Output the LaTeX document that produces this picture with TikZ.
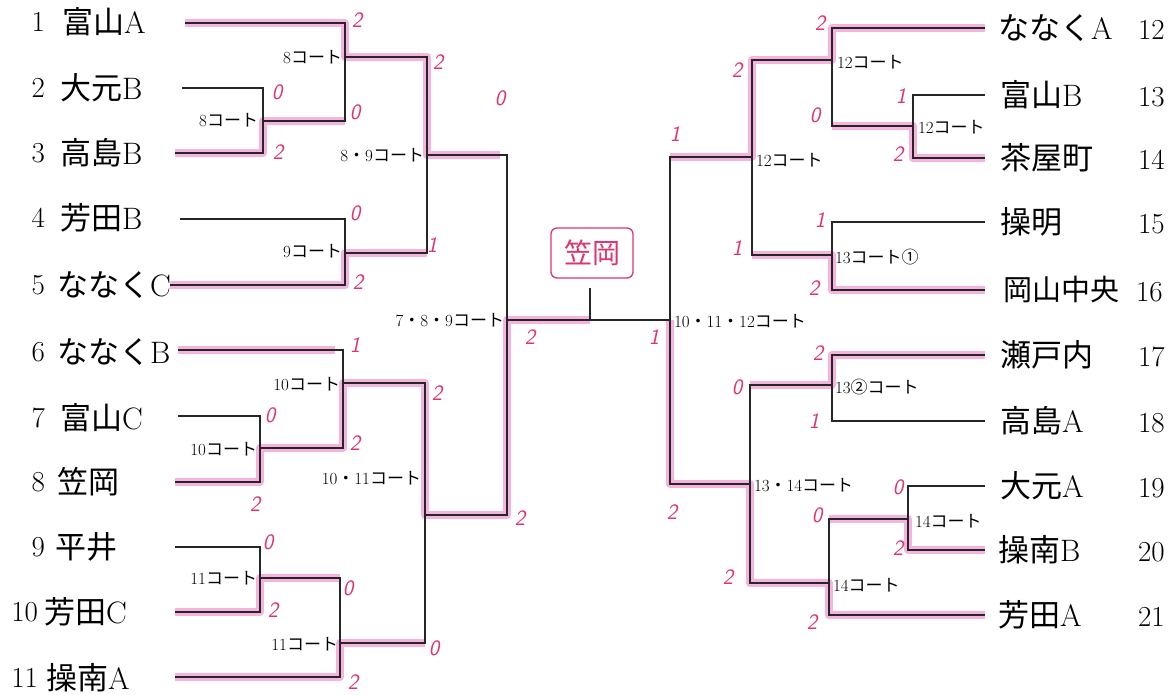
\documentclass[tikz,border=0pt]{standalone}
\usepackage{fontspec}
\newfontfamily\jp{Noto Sans CJK JP}
\definecolor{hlpink}{RGB}{238,120,196}
\definecolor{scorered}{RGB}{222,52,112}
\newcommand\J[1]{{\jp #1}}
\tikzset{
  every node/.style={inner sep=0pt, outer sep=0pt},
  br/.style={line width=1.5pt, black!85},
  hl/.style={line width=8pt, draw=hlpink, opacity=0.55, line join=round},
  team/.style={font=\fontsize{31}{32}\selectfont, anchor=west},
  num/.style={font=\fontsize{29}{30}\selectfont},
  court/.style={font=\fontsize{17}{18}\selectfont},
  score/.style={font=\fontsize{22}{22}\selectfont\sffamily\itshape, text=scorered},
}
\begin{document}
\begin{tikzpicture}[x=1pt,y=-1pt]
\useasboundingbox (0,0) rectangle (1175,695);
\fill[white] (0,0) rectangle (1175,695);

% ---------- left team labels ----------
\node[num,anchor=east] (n1) at (45,22) {1};   \node[team] (L1) at (62,22) {\J{富山}A};
\node[num,anchor=east] (n2) at (45,88) {2};   \node[team] (L2) at (60,88) {\J{大元}B};
\node[num,anchor=east] (n3) at (45,153) {3};  \node[team] (L3) at (60,153) {\J{高島}B};
\node[num,anchor=east] (n4) at (45,218) {4};  \node[team] (L4) at (60,218) {\J{芳田}B};
\node[num,anchor=east] (n5) at (45,285) {5};  \node[team] (L5) at (57,285) {\J{ななく}C};
\node[num,anchor=east] (n6) at (45,352) {6};  \node[team] (L6) at (57,352) {\J{ななく}B};
\node[num,anchor=east] (n7) at (45,418) {7};  \node[team] (L7) at (60,418) {\J{富山}C};
\node[num,anchor=east] (n8) at (45,482) {8};  \node[team] (L8) at (57,482) {\J{笠岡}};
\node[num,anchor=east] (n9) at (45,547) {9};  \node[team] (L9) at (55,547) {\J{平井}};
\node[num,anchor=east] (n10) at (38,612) {10}; \node[team] (L10) at (44,612) {\J{芳田}C};
\node[num,anchor=east] (n11) at (38,678) {11}; \node[team] (L11) at (46,678) {\J{操南}A};

% ---------- right team labels ----------
\node[team] (R12) at (998,28) {\J{ななく}A};  \node[num,anchor=west] (n12) at (1138,30) {12};
\node[team] (R13) at (1000,95) {\J{富山}B};   \node[num,anchor=west] (n13) at (1138,97) {13};
\node[team] (R14) at (1000,158) {\J{茶屋町}}; \node[num,anchor=west] (n14) at (1138,160) {14};
\node[team] (R15) at (1000,222) {\J{操明}};   \node[num,anchor=west] (n15) at (1138,224) {15};
\node[team,font=\fontsize{29}{30}\selectfont] (R16) at (1003,290) {\J{岡山中央}}; \node[num,anchor=west] (n16) at (1136,292) {16};
\node[team] (R17) at (1000,355) {\J{瀬戸内}}; \node[num,anchor=west] (n17) at (1138,357) {17};
\node[team] (R18) at (1000,421) {\J{高島}A};  \node[num,anchor=west] (n18) at (1138,423) {18};
\node[team] (R19) at (1000,486) {\J{大元}A};  \node[num,anchor=west] (n19) at (1138,488) {19};
\node[team] (R20) at (998,550) {\J{操南}B};   \node[num,anchor=west] (n20) at (1138,552) {20};
\node[team] (R21) at (998,615) {\J{芳田}A};   \node[num,anchor=west] (n21) at (1138,617) {21};

% ---------- coordinates (left) ----------
\coordinate (a1) at (185,23);  \coordinate (a2) at (182,88);  \coordinate (a3) at (175,153);
\coordinate (a4) at (180,219); \coordinate (a5) at (170,285); \coordinate (a6) at (178,350);
\coordinate (a7) at (178,416); \coordinate (a8) at (175,482); \coordinate (a9) at (175,547);
\coordinate (a10) at (175,612); \coordinate (a11) at (175,677);
% ---------- coordinates (right) ----------
\coordinate (b12) at (985,28);  \coordinate (b13) at (985,95);  \coordinate (b14) at (985,158);
\coordinate (b15) at (985,222); \coordinate (b16) at (985,290); \coordinate (b17) at (985,355);
\coordinate (b18) at (985,421); \coordinate (b19) at (985,486); \coordinate (b20) at (985,550);
\coordinate (b21) at (985,615);
\coordinate (fl) at (507,320); \coordinate (fr) at (670,320); \coordinate (fc) at (590,320);

% ---------- pink highlights ----------
\draw[hl] (a1) -- (345,23) -- (345,57) -- (427,57) -- (427,155) -- (500,155);
\draw[hl] (a3) -- (263,153) -- (263,121) -- (345,121);
\draw[hl] (a5) -- (345,285) -- (345,253) -- (427,253);
\draw[hl] (a6) -- (335,350);
\draw[hl] (a8) -- (260,482) -- (260,448) -- (343,448) -- (343,383) -- (425,383) -- (425,515) -- (507,515) -- (fl) -- (fc);
\draw[hl] (a10) -- (260,612) -- (260,578) -- (340,578);
\draw[hl] (a11) -- (340,677) -- (340,643) -- (425,643);
\draw[hl] (b12) -- (832,28) -- (832,60) -- (752,60) -- (752,157) -- (670,157);
\draw[hl] (b14) -- (913,158) -- (913,126) -- (832,126);
\draw[hl] (b16) -- (832,290) -- (832,255) -- (752,255);
\draw[hl] (b17) -- (832,355) -- (832,385) -- (750,385);
\draw[hl] (fr) -- (670,484) -- (750,484) -- (750,583) -- (829,583) -- (829,615) -- (b21);
\draw[hl] (b20) -- (908,550) -- (908,519) -- (829,519);

% ---------- bracket lines (left) ----------
\draw[br] (a2) -- (263,88) -- (263,153) -- (a3);
\draw[br] (a1) -- (345,23) -- (345,121) -- (263,121);
\draw[br] (a4) -- (345,219) -- (345,285) -- (a5);
\draw[br] (345,57) -- (427,57) -- (427,253) -- (345,253);
\draw[br] (a7) -- (260,416) -- (260,482) -- (a8);
\draw[br] (a6) -- (343,350) -- (343,448) -- (260,448);
\draw[br] (a9) -- (260,547) -- (260,612) -- (a10);
\draw[br] (a11) -- (340,677) -- (340,578) -- (260,578);
\draw[br] (343,383) -- (425,383) -- (425,643) -- (340,643);
\draw[br] (427,155) -- (507,155) -- (507,515) -- (425,515);
\draw[br] (fl) -- (fr);
% ---------- bracket lines (right) ----------
\draw[br] (b13) -- (913,95) -- (913,158) -- (b14);
\draw[br] (b12) -- (832,28) -- (832,126) -- (913,126);
\draw[br] (b15) -- (832,222) -- (832,290) -- (b16);
\draw[br] (832,60) -- (752,60) -- (752,255) -- (832,255);
\draw[br] (b17) -- (832,355) -- (832,421) -- (b18);
\draw[br] (b19) -- (908,486) -- (908,550) -- (b20);
\draw[br] (b21) -- (829,615) -- (829,519) -- (908,519);
\draw[br] (832,385) -- (750,385) -- (750,583) -- (829,583);
\draw[br] (752,157) -- (670,157) -- (670,484) -- (750,484);

% ---------- champion ----------
\node[draw=scorered, line width=1.3pt, rounded corners=6pt, minimum width=82pt, minimum height=50pt,
      text=scorered, font=\fontsize{28}{28}\selectfont\jp] (champ) at (592,253) {笠岡};
\draw[br] (fc) -- (590,288);

% ---------- court labels ----------
\node[court,anchor=east] (c1) at (342,57) {8\J{コート}};
\node[court,anchor=east] (c2) at (258,120) {8\J{コート}};
\node[court,anchor=east] (c3) at (424,155) {8\J{・}9\J{コート}};
\node[court,anchor=east] (c4) at (342,251) {9\J{コート}};
\node[court,anchor=east] (c5) at (504,320) {7\J{・}8\J{・}9\J{コート}};
\node[court,anchor=east] (c6) at (340,384) {10\J{コート}};
\node[court,anchor=east] (c7) at (257,449) {10\J{コート}};
\node[court,anchor=east] (c8) at (421,478) {10\J{・}11\J{コート}};
\node[court,anchor=east] (c9) at (257,578) {11\J{コート}};
\node[court,anchor=east] (c10) at (338,644) {11\J{コート}};
\node[court,anchor=west] (c11) at (837,62) {12\J{コート}};
\node[court,anchor=west] (c12) at (918,127) {12\J{コート}};
\node[court,anchor=west] (c13) at (756,160) {12\J{コート}};
\node[court,anchor=west] (c14) at (835,257) {13\J{コート①}};
\node[court,anchor=west] (c15) at (674,321) {10\J{・}11\J{・}12\J{コート}};
\node[court,anchor=west] (c16) at (835,387) {13\J{②コート}};
\node[court,anchor=west] (c17) at (754,485) {13\J{・}14\J{コート}};
\node[court,anchor=west] (c18) at (915,521) {14\J{コート}};
\node[court,anchor=west] (c19) at (833,585) {14\J{コート}};

% ---------- scores (left) ----------
\node[score] (s1) at (357,20) {2};
\node[score] (s2) at (277,92) {0};
\node[score] (s3) at (278,152) {2};
\node[score] (s4) at (355,112) {0};
\node[score] (s5) at (438,62) {2};
\node[score] (s6) at (355,213) {0};
\node[score] (s7) at (358,282) {2};
\node[score] (s8) at (432,245) {1};
\node[score] (s9) at (500,98) {0};
\node[score] (s10) at (355,345) {1};
\node[score] (s11) at (270,415) {0};
\node[score] (s12) at (355,443) {2};
\node[score] (s13) at (437,393) {2};
\node[score] (s14) at (255,504) {2};
\node[score] (s15) at (268,542) {0};
\node[score] (s16) at (273,610) {2};
\node[score] (s17) at (348,588) {0};
\node[score] (s18) at (353,682) {2};
\node[score] (s19) at (434,648) {0};
\node[score] (s20) at (520,518) {2};
\node[score] (s21) at (530,337) {2};
\node[score] (s22) at (654,337) {1};
% ---------- scores (right) ----------
\node[score] (s23) at (675,134) {1};
\node[score] (s24) at (737,70) {2};
\node[score] (s25) at (820,23) {2};
\node[score] (s26) at (815,115) {0};
\node[score] (s27) at (901,96) {1};
\node[score] (s28) at (898,154) {2};
\node[score] (s29) at (737,248) {1};
\node[score] (s30) at (820,220) {1};
\node[score] (s31) at (814,288) {2};
\node[score] (s32) at (737,387) {0};
\node[score] (s33) at (818,353) {2};
\node[score] (s34) at (814,421) {1};
\node[score] (s35) at (672,512) {2};
\node[score] (s36) at (898,487) {0};
\node[score] (s37) at (817,515) {0};
\node[score] (s38) at (898,548) {2};
\node[score] (s39) at (728,577) {2};
\node[score] (s40) at (812,622) {2};
\end{tikzpicture}
\end{document}
